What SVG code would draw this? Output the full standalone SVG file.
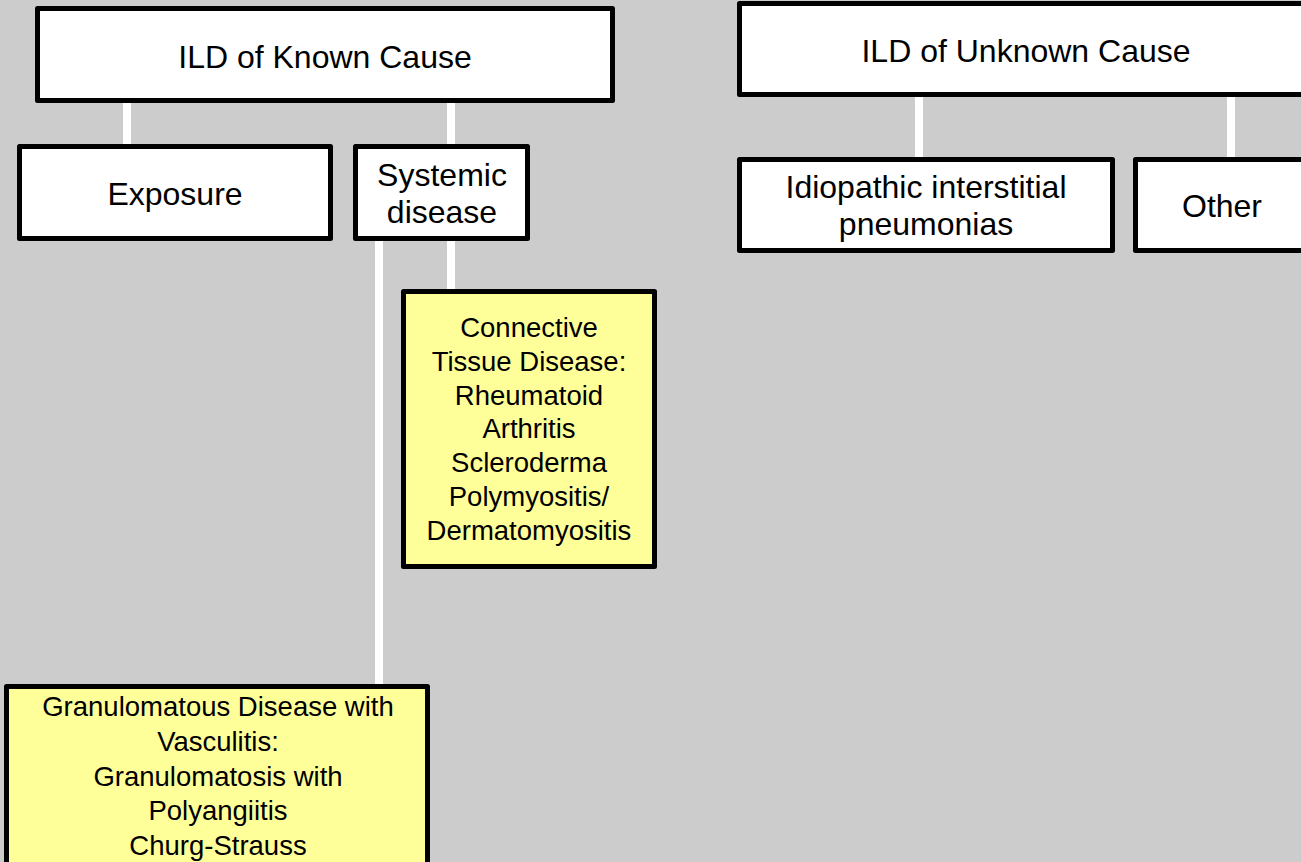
<svg xmlns="http://www.w3.org/2000/svg" width="1301" height="862" viewBox="0 0 1301 862">
<style>
.bg{fill:#cccccc}
.box{fill:#ffffff;stroke:#000000;stroke-width:5;stroke-linejoin:round}
.ybox{fill:#ffff99;stroke:#000000;stroke-width:5;stroke-linejoin:round}
.conn{stroke:#ffffff;stroke-width:8;fill:none}
.t{font-family:"Liberation Sans",Arial,sans-serif;font-size:32px;fill:#000000;text-anchor:middle}
.ts{font-family:"Liberation Sans",Arial,sans-serif;font-size:27.5px;fill:#000000;text-anchor:middle}
</style>
<rect class="bg" x="0" y="0" width="1301" height="862"/>
<g id="connectors">
<line class="conn" x1="127" y1="100" x2="127" y2="148"/>
<line class="conn" x1="451" y1="100" x2="451" y2="148"/>
<line class="conn" x1="379" y1="238" x2="379" y2="687"/>
<line class="conn" x1="451" y1="238" x2="451" y2="292"/>
<line class="conn" x1="919" y1="94" x2="919" y2="160"/>
<line class="conn" x1="1231" y1="94" x2="1231" y2="160"/>
</g>
<g id="known">
<rect class="box" x="37.5" y="8.5" width="575" height="92"/>
<text class="t" x="325" y="68">ILD of Known Cause</text>
</g>
<g id="exposure">
<rect class="box" x="19.5" y="146.5" width="311" height="92"/>
<text class="t" x="175" y="205">Exposure</text>
</g>
<g id="systemic">
<rect class="box" x="355.5" y="146.5" width="172" height="92"/>
<text class="t" x="442" y="186">Systemic</text>
<text class="t" x="442" y="223">disease</text>
</g>
<g id="connective">
<rect class="ybox" x="403.5" y="291.5" width="251" height="275"/>
<text class="ts" x="529" y="337">Connective</text>
<text class="ts" x="529" y="371">Tissue Disease:</text>
<text class="ts" x="529" y="405">Rheumatoid</text>
<text class="ts" x="529" y="438">Arthritis</text>
<text class="ts" x="529" y="472">Scleroderma</text>
<text class="ts" x="529" y="506">Polymyositis/</text>
<text class="ts" x="529" y="540">Dermatomyositis</text>
</g>
<g id="granulomatous">
<rect class="ybox" x="6.5" y="686.5" width="421" height="190"/>
<text class="ts" x="218" y="716">Granulomatous Disease with</text>
<text class="ts" x="218" y="751">Vasculitis:</text>
<text class="ts" x="218" y="786">Granulomatosis with</text>
<text class="ts" x="218" y="820">Polyangiitis</text>
<text class="ts" x="218" y="855">Churg-Strauss</text>
</g>
<g id="unknown">
<rect class="box" x="739.5" y="3.5" width="573" height="91"/>
<text class="t" x="1026" y="62">ILD of Unknown Cause</text>
</g>
<g id="idiopathic">
<rect class="box" x="739.5" y="159.5" width="373" height="91"/>
<text class="t" x="926" y="198">Idiopathic interstitial</text>
<text class="t" x="926" y="235">pneumonias</text>
</g>
<g id="other">
<rect class="box" x="1135.5" y="159.5" width="173" height="91"/>
<text class="t" x="1222" y="217">Other</text>
</g>
</svg>
